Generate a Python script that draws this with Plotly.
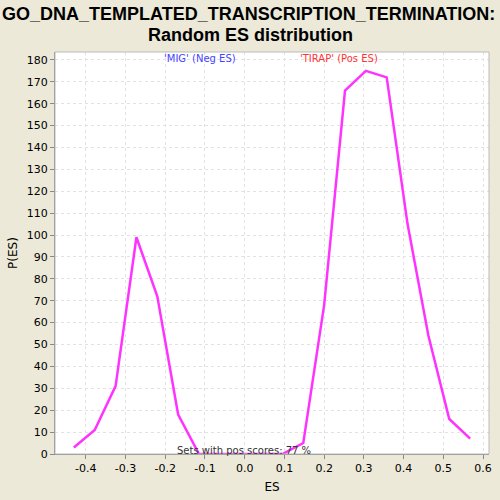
import plotly.graph_objects as go

es_values = [-0.43, -0.3775, -0.325, -0.2725, -0.22, -0.1675, -0.115, -0.0625, -0.01, 0.0425,
             0.095, 0.1475, 0.2, 0.2525, 0.305, 0.3575, 0.41, 0.4625, 0.515, 0.5675]
p_es = [3, 11, 31, 99, 72, 18, 0, 0, 0, 0,
        0, 5, 68, 166, 175, 172, 105, 54, 16, 7]

x_ticks = [-0.4, -0.3, -0.2, -0.1, 0.0, 0.1, 0.2, 0.3, 0.4, 0.5, 0.6]
y_ticks = list(range(0, 181, 10))

title_lines = ['GO_DNA_TEMPLATED_TRANSCRIPTION_TERMINATION:', 'Random ES distribution']

fig = go.Figure()
fig.add_trace(go.Scatter(x=es_values, y=p_es, mode='lines',
                         line=dict(color='#FF33FF', width=2.5), showlegend=False))

fig.update_layout(
    width=500, height=500,
    paper_bgcolor='#ECE9D8', plot_bgcolor='white',
    margin=dict(l=55, r=8, t=52, b=42),
    font=dict(family='DejaVu Sans, Arial, sans-serif', size=11, color='black'),
)
fig.update_xaxes(range=[-0.4775, 0.615], tickvals=x_ticks,
                 ticktext=[f'{v:.1f}' for v in x_ticks],
                 showgrid=True, gridcolor='#E2E2E2', griddash='3px,3px', gridwidth=1,
                 showline=True, linecolor='#888888', linewidth=1, mirror=False,
                 ticks='outside', ticklen=4, tickcolor='#888888', zeroline=False,
                 title=dict(text='ES', font=dict(size=12), standoff=8))
fig.update_yaxes(range=[0, 183.6], tickvals=y_ticks,
                 showgrid=True, gridcolor='#E2E2E2', griddash='3px,3px', gridwidth=1,
                 showline=True, linecolor='#888888', linewidth=1,
                 ticks='outside', ticklen=4, tickcolor='#888888', zeroline=False,
                 title=dict(text='P(ES)', font=dict(size=12), standoff=6))

fig.add_shape(type='rect', xref='paper', yref='paper', x0=0, y0=0, x1=1, y1=1,
              line=dict(color='#BBBBBB', width=1))

# title as two centred lines; plot area is x 55..492, y 52..458 px
for line, xpx, ypx in zip(title_lines, [250, 252], [14, 35]):
    fig.add_annotation(x=(xpx - 55) / 437, y=(458 - ypx) / 406, xref='paper', yref='paper',
                       xanchor='center', yanchor='middle', text=f'<b>{line}</b>',
                       showarrow=False,
                       font=dict(family='Liberation Sans, Arial, sans-serif', size=18, color='black'))

fig.add_annotation(x=-0.1125, y=180.5, xref='x', yref='y', text="'MIG' (Neg ES)",
                   showarrow=False, font=dict(color='#4444FF', size=10))
fig.add_annotation(x=0.2375, y=180.5, xref='x', yref='y', text="'TIRAP' (Pos ES)",
                   showarrow=False, font=dict(color='#FF3333', size=10))
fig.add_annotation(x=-0.0025, y=0, xref='x', yref='y', yanchor='bottom', yshift=-4,
                   text='Sets with pos scores: 77 %',
                   showarrow=False, font=dict(color='#333333', size=10))

fig.write_html("out.html", config={'displayModeBar': False},
               post_script="document.body.style.margin='0';")
